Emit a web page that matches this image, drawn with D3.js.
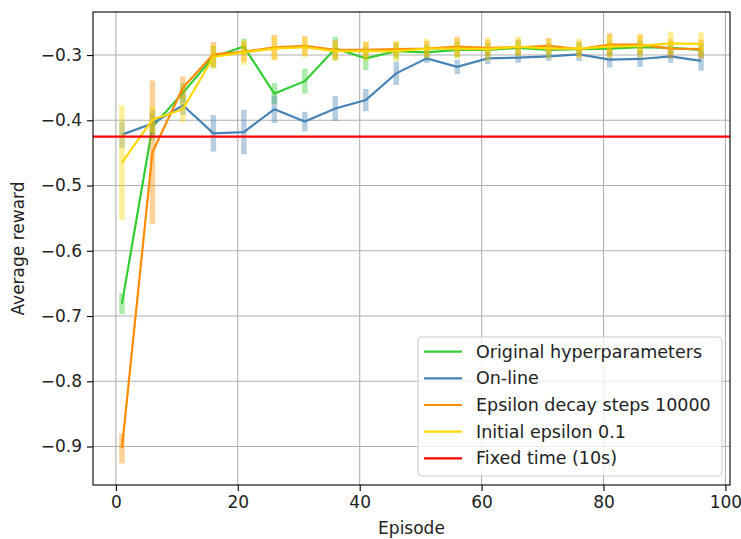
<!DOCTYPE html>
<html>
<head>
<meta charset="utf-8">
<script src="https://cdn.jsdelivr.net/npm/d3@7"></script>
<style>
  body { margin: 0; background: #fff; }
  svg { font-family: "DejaVu Sans", sans-serif; }
</style>
</head>
<body>
<svg id="chart" width="741" height="539"></svg>
<script>
// episodes sampled every 5
var episodes = [1, 6, 11, 16, 21, 26, 31, 36, 41, 46, 51, 56, 61, 66, 71, 76, 81, 86, 91, 96];

var originalMean = [-0.681, -0.410, -0.358, -0.303, -0.287, -0.359, -0.340, -0.290, -0.305, -0.294,
                    -0.296, -0.292, -0.292, -0.289, -0.292, -0.291, -0.290, -0.288, -0.289, -0.292];
var originalErr  = [0.016, 0.020, 0.015, 0.017, 0.012, 0.016, 0.019, 0.018, 0.018, 0.012,
                    0.012, 0.012, 0.010, 0.012, 0.010, 0.010, 0.010, 0.010, 0.010, 0.010];

var onlineMean = [-0.422, -0.405, -0.377, -0.420, -0.418, -0.383, -0.402, -0.382, -0.369, -0.328,
                  -0.305, -0.318, -0.305, -0.304, -0.302, -0.299, -0.307, -0.306, -0.302, -0.309];
var onlineErr  = [0.020, 0.020, 0.015, 0.028, 0.034, 0.021, 0.015, 0.019, 0.017, 0.018,
                  0.007, 0.011, 0.009, 0.008, 0.007, 0.010, 0.012, 0.012, 0.010, 0.015];

var decayMean = [-0.903, -0.449, -0.350, -0.299, -0.295, -0.288, -0.286, -0.292, -0.292, -0.291,
                 -0.290, -0.287, -0.289, -0.288, -0.286, -0.291, -0.284, -0.284, -0.290, -0.291];
var decayErr  = [0.023, 0.110, 0.017, 0.019, 0.015, 0.019, 0.015, 0.015, 0.012, 0.012,
                 0.012, 0.015, 0.012, 0.012, 0.012, 0.012, 0.018, 0.015, 0.015, 0.015];

var epsMean = [-0.465, -0.399, -0.383, -0.303, -0.296, -0.290, -0.288, -0.294, -0.294, -0.294,
               -0.290, -0.290, -0.291, -0.287, -0.290, -0.290, -0.287, -0.286, -0.282, -0.283];
var epsErr  = [0.088, 0.020, 0.020, 0.018, 0.019, 0.018, 0.015, 0.015, 0.015, 0.015,
               0.015, 0.015, 0.018, 0.015, 0.015, 0.015, 0.018, 0.018, 0.018, 0.018];

var fixedTime = -0.425;

var xTicks = [0, 20, 40, 60, 80, 100];
var yTicks = [-0.9, -0.8, -0.7, -0.6, -0.5, -0.4, -0.3];

var seriesNames = ["Original hyperparameters", "On-line", "Epsilon decay steps 10000", "Initial epsilon 0.1", "Fixed time (10s)"];

var series = [
  {name: seriesNames[0], mean: originalMean, err: originalErr, color: "#33cc33"},
  {name: seriesNames[1], mean: onlineMean, err: onlineErr, color: "#4682b4"},
  {name: seriesNames[2], mean: decayMean, err: decayErr, color: "#ff8c00"},
  {name: seriesNames[3], mean: epsMean, err: epsErr, color: "#ffd700"}
];

var svg = d3.select("#chart");
var L = 93, R = 730, T = 12, B = 485;

var x = d3.scaleLinear().domain([-3.75, 100.75]).range([L, R]);
var y = d3.scaleLinear().domain([-0.959, -0.234]).range([B, T]);

// grid
svg.append("g").selectAll("line").data(xTicks).join("line")
  .attr("x1", d => x(d)).attr("x2", d => x(d)).attr("y1", T).attr("y2", B)
  .attr("stroke", "#b0b0b0").attr("stroke-width", 1.1);
svg.append("g").selectAll("line").data(yTicks).join("line")
  .attr("y1", d => y(d)).attr("y2", d => y(d)).attr("x1", L).attr("x2", R)
  .attr("stroke", "#b0b0b0").attr("stroke-width", 1.1);

var plot = svg.append("g");

var line = d3.line().x((d, i) => x(episodes[i])).y(d => y(d));

series.forEach(function(s) {
  plot.append("g").selectAll("line").data(s.mean).join("line")
    .attr("x1", (d, i) => x(episodes[i])).attr("x2", (d, i) => x(episodes[i]))
    .attr("y1", (d, i) => y(d - s.err[i])).attr("y2", (d, i) => y(d + s.err[i]))
    .attr("stroke", s.color).attr("stroke-opacity", 0.4).attr("stroke-width", 5.5);
  plot.append("path").datum(s.mean)
    .attr("d", line).attr("fill", "none")
    .attr("stroke", s.color).attr("stroke-width", 2.2);
});

plot.append("line")
  .attr("x1", L).attr("x2", R).attr("y1", y(fixedTime)).attr("y2", y(fixedTime))
  .attr("stroke", "#ff0000").attr("stroke-width", 2.2);

// axes
var fmt = d => d3.format(".1f")(d).replace("-", "\u2212");
var xAxis = svg.append("g").attr("transform", "translate(0," + B + ")")
  .call(d3.axisBottom(x).tickValues(xTicks).tickSize(6).tickPadding(5));
var yAxis = svg.append("g").attr("transform", "translate(" + L + ",0)")
  .call(d3.axisLeft(y).tickValues(yTicks).tickFormat(fmt).tickSize(6).tickPadding(5));
[xAxis, yAxis].forEach(function(a) {
  a.select(".domain").remove();
  a.selectAll("line").attr("stroke", "#000").attr("stroke-width", 1.1);
  a.selectAll("text").attr("font-family", "DejaVu Sans").attr("font-size", 17).attr("fill", "#222");
});

svg.append("rect").attr("x", L).attr("y", T).attr("width", R - L).attr("height", B - T)
  .attr("fill", "none").attr("stroke", "#000").attr("stroke-width", 1.1);

svg.append("text").attr("x", (L + R) / 2).attr("y", 534)
  .attr("text-anchor", "middle").attr("font-size", 17).attr("fill", "#222").text("Episode");
svg.append("text").attr("transform", "translate(24," + ((T + B) / 2) + ") rotate(-90)")
  .attr("text-anchor", "middle").attr("font-size", 17).attr("fill", "#222").text("Average reward");

// legend
var lg = svg.append("g");
lg.append("rect").attr("x", 418).attr("y", 337).attr("width", 304).attr("height", 139)
  .attr("rx", 4).attr("fill", "#fff").attr("fill-opacity", 0.8)
  .attr("stroke", "#cccccc").attr("stroke-width", 1.1);
var legendColors = series.map(s => s.color).concat(["#ff0000"]);
var rows = lg.selectAll("g.row").data(seriesNames).join("g").attr("class", "row")
  .attr("transform", (d, i) => "translate(0," + (351.7 + i * 26.65) + ")");
rows.append("line").attr("x1", 424).attr("x2", 462).attr("y1", 0).attr("y2", 0)
  .attr("stroke", (d, i) => legendColors[i]).attr("stroke-width", 2.2);
rows.append("text").attr("x", 476).attr("y", 0).attr("dy", "0.35em")
  .attr("font-size", 17.5).attr("fill", "#222").text(d => d);
</script>
</body>
</html>
